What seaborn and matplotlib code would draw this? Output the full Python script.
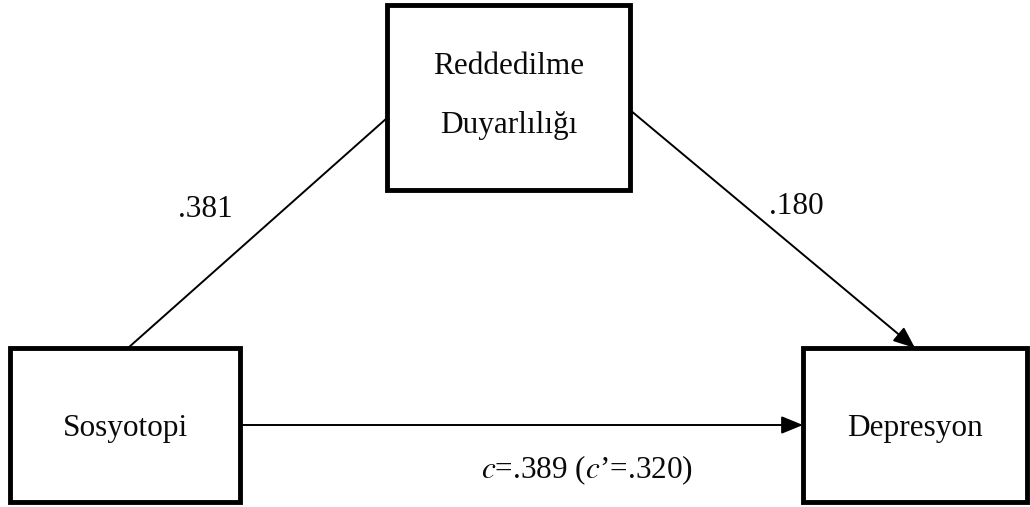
import matplotlib
matplotlib.use("Agg")
import matplotlib.pyplot as plt
import seaborn as sns
from matplotlib.patches import Rectangle

sns.set_theme(style="white")
plt.rcParams['font.family'] = ['Liberation Serif', 'DejaVu Serif']

# nodes: label lines, box (x0, y0, x1, y1) in pixel coords
node_names = ["med", "x", "y"]
node_labels = [["Reddedilme", "Duyarlılığı"], ["Sosyotopi"], ["Depresyon"]]
node_boxes = [(387, 5, 630, 190), (10, 348, 240, 502), (803, 348, 1027, 502)]

# paths: start, end, arrow?
path_starts = [(128, 348), (630, 110), (240, 425)]
path_ends = [(387, 118), (915, 348), (803, 425)]
path_arrows = [False, True, True]

coef_labels = [".381", ".180", r"$c$=.389 ($c$’=.320)"]
coef_pos = [(205, 206), (796, 203), (587, 466)]

FS = 22.5
LINE_GAP = 58
MULTI_OFFSET = -5

fig = plt.figure(figsize=(10.30, 5.07), dpi=100)
ax = fig.add_axes([0, 0, 1, 1])
ax.set_xlim(0, 1030)
ax.set_ylim(507, 0)
ax.axis("off")

for lines, (x0, y0, x1, y1) in zip(node_labels, node_boxes):
    ax.add_patch(Rectangle((x0, y0), x1 - x0, y1 - y0, fill=False,
                           edgecolor="black", linewidth=3.5, joinstyle="miter"))
    cx, cy = (x0 + x1) / 2, (y0 + y1) / 2
    n = len(lines)
    if n > 1:
        cy += MULTI_OFFSET
    for i, ln in enumerate(lines):
        yy = cy + (i - (n - 1) / 2) * LINE_GAP
        ax.text(cx, yy, ln, ha="center", va="center_baseline",
                fontsize=FS, color="#0a0a0a")

for s, e, arr in zip(path_starts, path_ends, path_arrows):
    if arr:
        ax.annotate("", xy=e, xytext=s,
                    arrowprops=dict(arrowstyle="-|>,head_length=1.1,head_width=0.45",
                                    color="black", lw=1.4, shrinkA=0, shrinkB=0))
    else:
        ax.plot([s[0], e[0]], [s[1], e[1]], color="black", lw=1.4)

for lab, (x, y) in zip(coef_labels, coef_pos):
    ax.text(x, y, lab, ha="center", va="center_baseline", fontsize=FS,
            color="#0a0a0a", math_fontfamily="stix")

fig.savefig("out.png", dpi=100)
